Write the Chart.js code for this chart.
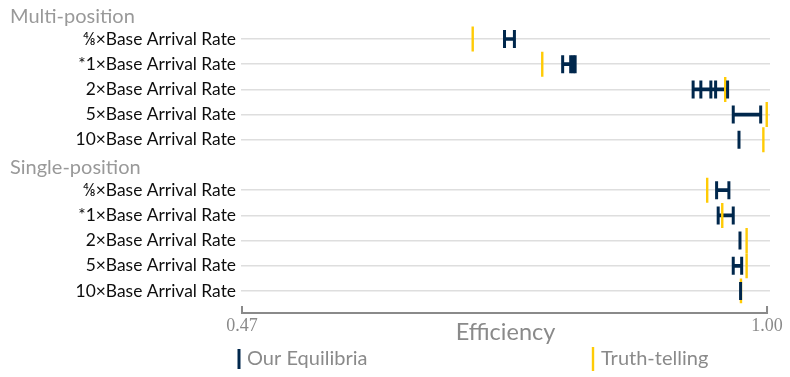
<!DOCTYPE html>
<html>
<head>
<meta charset="utf-8">
<script src="https://cdn.jsdelivr.net/npm/chart.js@4"></script>
<style>
  html, body { margin: 0; padding: 0; background: #ffffff; }
  canvas { display: block; }
</style>
</head>
<body>
<canvas id="chart" width="790" height="377"></canvas>
<script>
// Rows of the chart, top to bottom (section headers included).
const rowNames = [
  'Multi-position',
  '⅘×Base Arrival Rate',
  '*1×Base Arrival Rate',
  '2×Base Arrival Rate',
  '5×Base Arrival Rate',
  '10×Base Arrival Rate',
  'Single-position',
  '⅘×Base Arrival Rate',
  '*1×Base Arrival Rate',
  '2×Base Arrival Rate',
  '5×Base Arrival Rate',
  '10×Base Arrival Rate'
];
const sectionRows = [0, 6];

// Efficiency of each equilibrium found, per arrival-rate setting.
const multiEquilibria = [
  [0.735, 0.745],
  [0.7937, 0.8018, 0.8043, 0.8063],
  [0.9254, 0.9332, 0.9433, 0.9481, 0.9602],
  [0.9659, 0.9936],
  [0.9717]
];
const multiTruthTelling = [0.7029, 0.7731, 0.9578, 0.9997, 0.9963];

const singleEquilibria = [
  [0.9491, 0.9615],
  [0.9507, 0.9659],
  [0.9727],
  [0.9659, 0.9744],
  [0.9733]
];
const singleTruthTelling = [0.9396, 0.9548, 0.9794, 0.9794, 0.9737];

const xTicks = [0.47, 1.00];

const BLUE = '#00274C';
const MAIZE = '#FFCB05';
const GREY = '#8a8a8a';
const SANS = 'Lato';

// Build per-row datasets from the section arrays.
const ranges = [];
const equilibriumPoints = [];
const truthPoints = [];
function addSection(firstRow, eqs, truth) {
  eqs.forEach((vals, i) => {
    const row = firstRow + i;
    vals.forEach(v => equilibriumPoints.push({ x: v, y: row }));
    const lo = Math.min(...vals), hi = Math.max(...vals);
    if (hi > lo) ranges.push({ x: [lo, hi], y: row });
    truthPoints.push({ x: truth[i], y: row });
  });
}
addSection(1, multiEquilibria, multiTruthTelling);
addSection(7, singleEquilibria, singleTruthTelling);

// Section headings, bottom axis line and legend.
const decorations = {
  id: 'decorations',
  afterDraw(chart) {
    const { ctx, chartArea, scales: { x, y } } = chart;
    ctx.save();

    ctx.fillStyle = '#999999';
    ctx.font = `20px ${SANS}`;
    ctx.textAlign = 'left';
    ctx.textBaseline = 'middle';
    sectionRows.forEach(r => ctx.fillText(rowNames[r], 10, y.getPixelForValue(r) + 2.5));

    const x0 = x.getPixelForValue(xTicks[0]);
    const x1 = x.getPixelForValue(xTicks[xTicks.length - 1]);
    const ay = 313;
    ctx.strokeStyle = GREY;
    ctx.lineWidth = 2;
    ctx.beginPath();
    ctx.moveTo(x0, ay - 7);
    ctx.lineTo(x0, ay);
    ctx.lineTo(x1, ay);
    ctx.lineTo(x1, ay - 7);
    ctx.stroke();

    const items = [
      { label: chart.data.datasets[2].label, color: BLUE, width: 3, half: 10, x: chartArea.left - 2 },
      { label: chart.data.datasets[1].label, color: MAIZE, width: 2.4, half: 12, x: 593 }
    ];
    const ly = 359;
    ctx.font = `20px ${SANS}`;
    items.forEach(it => {
      ctx.strokeStyle = it.color;
      ctx.lineWidth = it.width;
      ctx.beginPath();
      ctx.moveTo(it.x, ly - it.half);
      ctx.lineTo(it.x, ly + it.half);
      ctx.stroke();
      ctx.fillStyle = GREY;
      ctx.fillText(it.label, it.x + 8, ly);
    });
    ctx.restore();
  }
};

function noEdgePadding(s) {
  s.paddingTop = 0;
  s.paddingBottom = 0;
  s.paddingLeft = 0;
  s.paddingRight = 0;
}

new Chart(document.getElementById('chart'), {
  type: 'scatter',
  data: {
    datasets: [
      {
        type: 'bar',
        label: 'Equilibrium range',
        indexAxis: 'y',
        data: ranges,
        backgroundColor: BLUE,
        borderWidth: 0,
        barThickness: 3,
        order: 3
      },
      {
        label: 'Truth-telling',
        data: truthPoints,
        pointStyle: 'line',
        pointRotation: 90,
        pointRadius: 12.5,
        pointBorderColor: MAIZE,
        pointBackgroundColor: MAIZE,
        pointBorderWidth: 2.4,
        order: 2
      },
      {
        label: 'Our Equilibria',
        data: equilibriumPoints,
        pointStyle: 'line',
        pointRotation: 90,
        pointRadius: 9,
        pointBorderColor: BLUE,
        pointBackgroundColor: BLUE,
        pointBorderWidth: 3,
        order: 1
      }
    ]
  },
  options: {
    responsive: false,
    animation: false,
    events: [],
    devicePixelRatio: 1,
    layout: { autoPadding: false, padding: { top: 1.2, right: 20, left: 0, bottom: 0 } },
    plugins: { legend: { display: false }, tooltip: { enabled: false } },
    scales: {
      x: {
        type: 'linear',
        min: 0.469,
        max: 1.003,
        offset: false,
        beginAtZero: false,
        afterBuildTicks: s => { s.ticks = xTicks.map(v => ({ value: v })); },
        afterFit: s => { s.height = 73.4; noEdgePadding(s); },
        grid: { display: false, drawTicks: false, offset: false },
        border: { display: false },
        ticks: {
          autoSkip: false,
          maxRotation: 0,
          padding: 12,
          color: GREY,
          font: { family: 'Liberation Serif', size: 18 },
          callback: v => Number(v).toFixed(2)
        },
        title: {
          display: true,
          text: 'Efficiency',
          color: GREY,
          font: { family: SANS, size: 23.5 },
          padding: { top: 0, bottom: 30 }
        }
      },
      y: {
        type: 'linear',
        reverse: true,
        offset: false,
        min: -0.5,
        max: rowNames.length - 0.5,
        afterBuildTicks: s => { s.ticks = rowNames.map((_, i) => ({ value: i })); },
        afterFit: s => { s.width = 241; noEdgePadding(s); },
        border: { display: false },
        grid: {
          offset: false,
          drawTicks: false,
          lineWidth: 1.5,
          color: c => (c.tick && sectionRows.includes(c.tick.value)) ? 'rgba(0,0,0,0)' : '#dedede'
        },
        ticks: {
          autoSkip: false,
          padding: 5,
          color: '#0d0d0d',
          font: { family: SANS, size: 17.4 },
          callback: v => sectionRows.includes(v) ? '' : rowNames[v]
        }
      }
    }
  },
  plugins: [decorations]
});
</script>
</body>
</html>
